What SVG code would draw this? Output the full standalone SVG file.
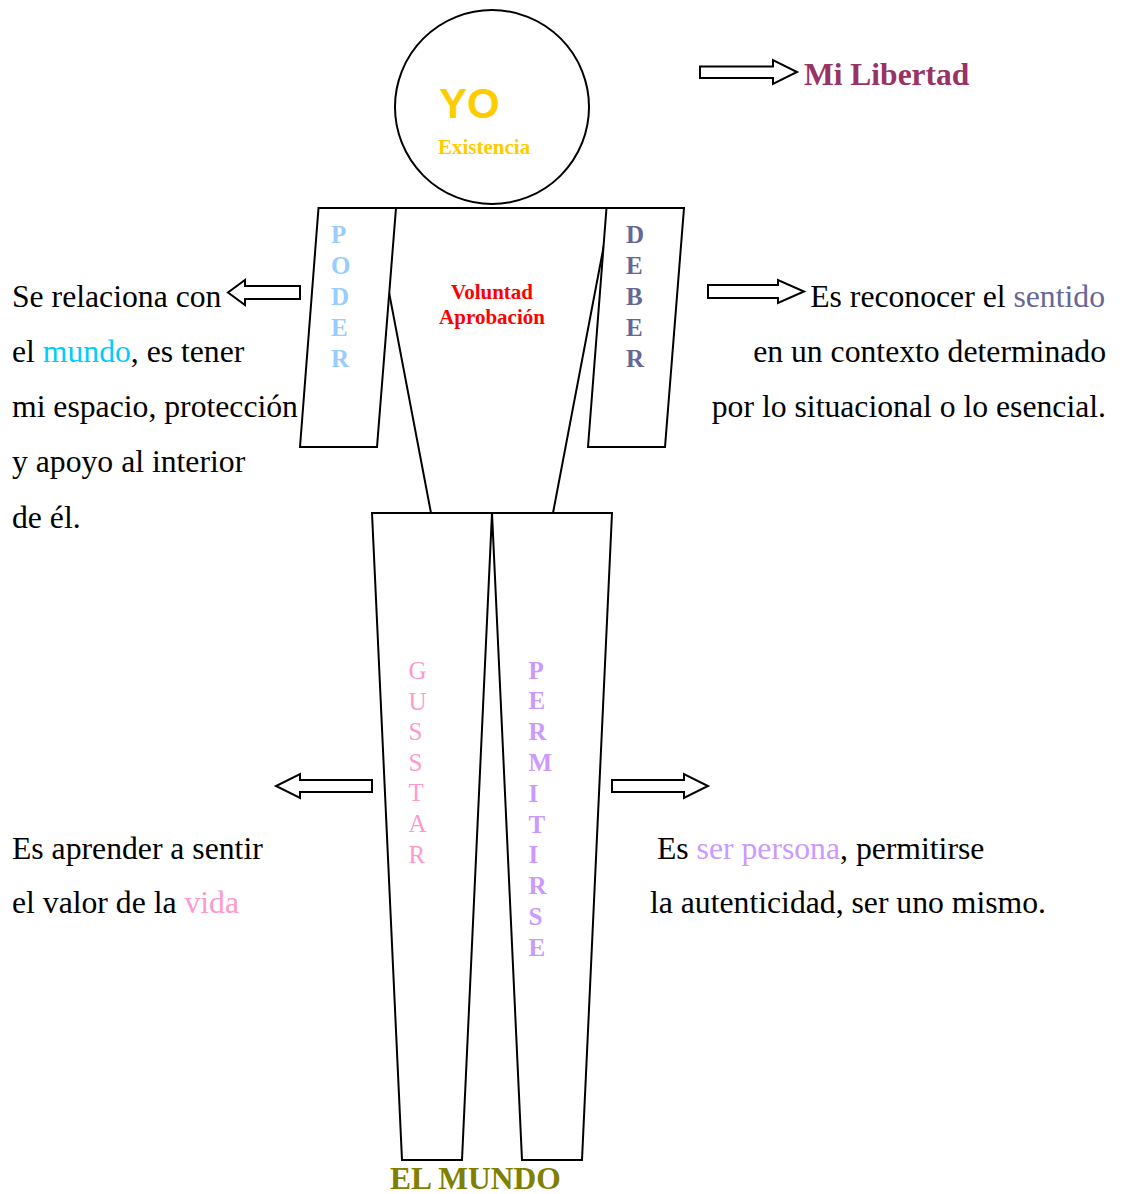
<svg xmlns="http://www.w3.org/2000/svg" width="1123" height="1194" viewBox="0 0 1123 1194">
<style>
.shape{fill:#fff;stroke:#000;stroke-width:2;stroke-linejoin:miter}
.arrow{fill:#fff;stroke:#000;stroke-width:2;stroke-linejoin:miter}
.serif{font-family:"Liberation Serif","Times New Roman",serif}
.body{font-family:"Liberation Serif","Times New Roman",serif;font-size:31.7px;fill:#000}
.bold{font-weight:bold}
.vert{font-family:"Liberation Serif","Times New Roman",serif;font-size:25px}
</style>
<rect width="1123" height="1194" fill="#fff"/>

<g id="torso">
<polygon class="shape" points="373,208 611,208 553,513 431,513"/>
<text class="serif bold" x="492" y="299" font-size="21" fill="#FF0000" text-anchor="middle">Voluntad</text>
<text class="serif bold" x="492" y="324" font-size="21" fill="#FF0000" text-anchor="middle">Aprobación</text>
</g>

<g id="arm-poder">
<polygon class="shape" points="318.5,208 396,208 377,447 300,447"/>
<text class="vert bold" fill="#99CCFF"><tspan x="331" y="243">P</tspan><tspan x="331" dy="31">O</tspan><tspan x="331" dy="31">D</tspan><tspan x="331" dy="31">E</tspan><tspan x="331" dy="31">R</tspan></text>
</g>

<g id="arm-deber">
<polygon class="shape" points="606.5,208 684,208 665,447 588,447"/>
<text class="vert bold" fill="#666699"><tspan x="626" y="243">D</tspan><tspan x="626" dy="31">E</tspan><tspan x="626" dy="31">B</tspan><tspan x="626" dy="31">E</tspan><tspan x="626" dy="31">R</tspan></text>
</g>

<g id="leg-gustar">
<polygon class="shape" points="372,513 492,513 462,1160 402,1160"/>
<text class="vert" fill="#FF99CC"><tspan x="408.5" y="679">G</tspan><tspan x="408.5" dy="30.6">U</tspan><tspan x="408.5" dy="30.6">S</tspan><tspan x="408.5" dy="30.6">S</tspan><tspan x="408.5" dy="30.6">T</tspan><tspan x="408.5" dy="30.6">A</tspan><tspan x="408.5" dy="30.6">R</tspan></text>
</g>

<g id="leg-permitirse">
<polygon class="shape" points="492,513 612,513 582,1160 522,1160"/>
<text class="vert bold" fill="#CC99FF"><tspan x="528.5" y="678.5">P</tspan><tspan x="528.5" dy="30.8">E</tspan><tspan x="528.5" dy="30.8">R</tspan><tspan x="528.5" dy="30.8">M</tspan><tspan x="528.5" dy="30.8">I</tspan><tspan x="528.5" dy="30.8">T</tspan><tspan x="528.5" dy="30.8">I</tspan><tspan x="528.5" dy="30.8">R</tspan><tspan x="528.5" dy="30.8">S</tspan><tspan x="528.5" dy="30.8">E</tspan></text>
</g>

<g id="head">
<circle class="shape" cx="492" cy="107" r="97"/>
<text x="439" y="118" font-family="'Liberation Sans',Arial,sans-serif" font-weight="bold" font-size="42" fill="#FFCC00">YO</text>
<text class="serif bold" x="438" y="154" font-size="21" fill="#FFCC00">Existencia</text>
</g>

<g id="connectors">
<polygon class="arrow" points="700,66.5 773,66.5 773,60 797,72 773,84 773,78 700,78"/>
<polygon class="arrow" points="300,286 245,286 245,280 228,292.5 245,305 245,299 300,299"/>
<polygon class="arrow" points="708,285 778,285 778,280 804,291.5 778,303 778,298 708,298"/>
<polygon class="arrow" points="372,780 300,780 300,774 276,786 300,798 300,792 372,792"/>
<polygon class="arrow" points="612,780 684,780 684,774 708,786 684,798 684,792 612,792"/>
</g>

<g id="label-libertad">
<text class="serif bold" x="804" y="85" font-size="31.5" fill="#993366">Mi Libertad</text>
</g>

<g id="text-poder">
<text class="body" x="12" y="307">Se relaciona con</text>
<text class="body" x="12" y="362">el <tspan fill="#00CCFF">mundo</tspan>, es tener</text>
<text class="body" x="12" y="417">mi espacio, protección</text>
<text class="body" x="12" y="472">y apoyo al interior</text>
<text class="body" x="12" y="528">de él.</text>
</g>

<g id="text-deber">
<text class="body" x="1105" y="307" text-anchor="end">Es reconocer el <tspan fill="#666699">sentido</tspan></text>
<text class="body" x="1106" y="362" text-anchor="end">en un contexto determinado</text>
<text class="body" x="1106" y="417" text-anchor="end">por lo situacional o lo esencial.</text>
</g>

<g id="text-gustar">
<text class="body" x="12" y="858.5">Es aprender a sentir</text>
<text class="body" x="12" y="913">el valor de la <tspan fill="#FF99CC">vida</tspan></text>
</g>

<g id="text-permitirse">
<text class="body" x="657" y="858.5">Es <tspan fill="#CC99FF">ser persona</tspan>, permitirse</text>
<text class="body" x="650" y="913">la autenticidad, ser uno mismo.</text>
</g>

<g id="label-mundo">
<text class="serif bold" x="390" y="1189" font-size="31.5" fill="#808000">EL MUNDO</text>
</g>
</svg>
